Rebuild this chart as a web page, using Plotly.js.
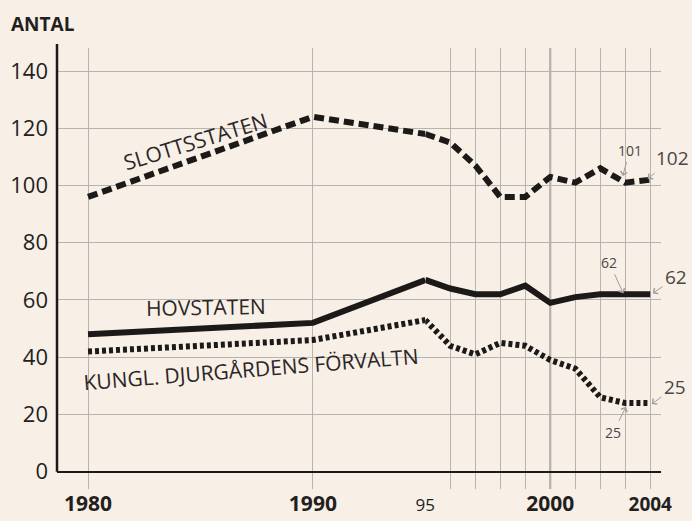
<!DOCTYPE html>
<html><head><meta charset="utf-8">
<script src="https://cdn.plot.ly/plotly-3.0.1.min.js"></script>
<style>html,body{margin:0;padding:0;background:#f8efe6;}#chart{width:692px;height:521px;}</style>
</head><body><div id="chart"></div>
<script>
// ---- data ----
const years = [1980, 1990, 1995, 1996, 1997, 1998, 1999, 2000, 2001, 2002, 2003, 2004];
const slottsstaten = [96, 124, 118, 115, 107, 96, 96, 103, 101, 106, 101, 102];
const hovstaten = [48, 52, 67, 64, 62, 62, 65, 59, 61, 62, 62, 62];
const djurgarden = [42, 46, 53, 44, 41, 45, 44, 39, 36, 26, 24, 24];
const yTicks = [0, 20, 40, 60, 80, 100, 120, 140];
const xTicksEarly = [1980, 1990, 1995];
const xTickTextEarly = ['<b>1980</b>', '<b>1990</b>', ''];
const xTicksLate = [1995, 1996, 1997, 1998, 1999, 2000, 2001, 2002, 2003, 2004];
const xTickTextLate = ['<span style="font-size:17px">95</span>', '', '', '', '', '<b>2000</b>', '', '', '', '<b><span style="font-size:19px">2004</span></b>'];
const seriesNames = ['SLOTTSSTATEN', 'HOVSTATEN', 'KUNGL. DJURGÅRDENS FÖRVALTN'];

// split the year axis into two scales (1980-1995 and 1995-2004)
function part(vals, early) {
  const xs = [], ys = [];
  years.forEach((yr, i) => {
    if ((early && yr <= 1995) || (!early && yr >= 1995)) { xs.push(yr); ys.push(vals[i]); }
  });
  return {x: xs, y: ys};
}
const ink = '#1c1a19';
const styles = [
  {color: ink, width: 6, dash: '10px,5px'},
  {color: ink, width: 6, dash: 'solid'},
  {color: ink, width: 6, dash: '4px,3px'}
];
const allSeries = [slottsstaten, hovstaten, djurgarden];
const traces = [];
allSeries.forEach((s, k) => {
  [true, false].forEach(early => {
    const p = part(s, early);
    traces.push({
      type: 'scatter', mode: 'lines', x: p.x, y: p.y, name: seriesNames[k],
      xaxis: early ? 'x' : 'x2', yaxis: 'y',
      line: Object.assign({shape: 'linear'}, styles[k]),
      showlegend: false, hoverinfo: 'skip'
    });
  });
});

const grid = '#b6b4b1';
const font = 'Open Sans, Liberation Sans, sans-serif';
const split = (425.3 - 57) / 604;

const labelFont = {family: font, size: 21, color: '#2a2726'};
const numFontS = {family: font, size: 14, color: '#4a4644'};
const numFontL = {family: font, size: 19, color: '#4a4644'};
const arrow = {showarrow: true, arrowhead: 4, arrowsize: 1.3, arrowwidth: 1, arrowcolor: '#a09d9a', standoff: 0, startstandoff: 1};

const layout = {
  width: 692, height: 521,
  paper_bgcolor: '#f8efe6', plot_bgcolor: '#f8efe6',
  margin: {l: 57, r: 31, t: 48, b: 32, pad: 0},
  showlegend: false,
  xaxis: {
    domain: [0, split], range: [1978.62, 1995], anchor: 'y',
    tickmode: 'array', tickvals: xTicksEarly, ticktext: xTickTextEarly,
    showgrid: true, gridcolor: grid, gridwidth: 1, zeroline: false, showline: false, ticks: '',
    tickfont: {family: font, size: 21, color: '#231f1e'}, ticklabelstandoff: 0
  },
  xaxis2: {
    domain: [split, 1], range: [1995, 2004.43], anchor: 'y',
    tickmode: 'array', tickvals: xTicksLate, ticktext: xTickTextLate,
    showgrid: true, gridcolor: grid, gridwidth: 1, zeroline: false, showline: false, ticks: '',
    tickfont: {family: font, size: 21, color: '#231f1e'}, ticklabelstandoff: 0
  },
  yaxis: {
    range: [-6.04, 148.04], tickmode: 'array', tickvals: yTicks,
    showgrid: true, gridcolor: grid, gridwidth: 1,
    zeroline: true, zerolinecolor: ink, zerolinewidth: 2,
    showline: false, ticks: '',
    tickfont: {family: font, size: 22, color: '#231f1e'}, ticklabelstandoff: 8
  },
  shapes: [
    {type: 'line', xref: 'x2', yref: 'paper', x0: 2000, x1: 2000, y0: 0, y1: 1, line: {color: '#a3a09d', width: 2}, layer: 'below'},
    {type: 'line', xref: 'paper', yref: 'paper', x0: 0, x1: 0, y0: 0.0392, y1: 1.009, line: {color: ink, width: 2.5}}
  ],
  annotations: [
    {xref: 'paper', yref: 'paper', x: -0.0795, y: 1.054, xanchor: 'left', yanchor: 'middle', text: '<b>ANTAL</b>', showarrow: false, font: {family: font, size: 19, color: '#231f1e'}},
    {xref: 'x', yref: 'y', x: 1984.8, y: 115.5, text: seriesNames[0], textangle: -17, showarrow: false, font: labelFont},
    {xref: 'x', yref: 'y', x: 1985.25, y: 57.4, text: seriesNames[1], textangle: -1, showarrow: false, font: labelFont},
    {xref: 'x', yref: 'y', x: 1987.25, y: 35.9, text: seriesNames[2], textangle: -4.5, showarrow: false, font: labelFont},
    Object.assign({xref: 'x2', yref: 'y', x: 2002.9, y: 103.3, ax: 7, ay: -26, text: '101', font: numFontS}, arrow),
    Object.assign({xref: 'x2', yref: 'y', x: 2003.9, y: 102.3, ax: 25, ay: -21, text: '102', font: numFontL}, arrow),
    Object.assign({xref: 'x2', yref: 'y', x: 2002.92, y: 62.3, ax: -14, ay: -31, text: '62', font: numFontS}, arrow),
    Object.assign({xref: 'x2', yref: 'y', x: 2004.1, y: 62.3, ax: 23, ay: -16, text: '62', font: numFontL}, arrow),
    Object.assign({xref: 'x2', yref: 'y', x: 2004.06, y: 23.65, ax: 23, ay: -17, text: '25', font: numFontL}, arrow),
    Object.assign({xref: 'x2', yref: 'y', x: 2003.03, y: 22.7, ax: -13, ay: 26, text: '25', font: numFontS}, arrow)
  ]
};

Plotly.newPlot('chart', traces, layout, {displayModeBar: false, staticPlot: true});
</script>
</body></html>
